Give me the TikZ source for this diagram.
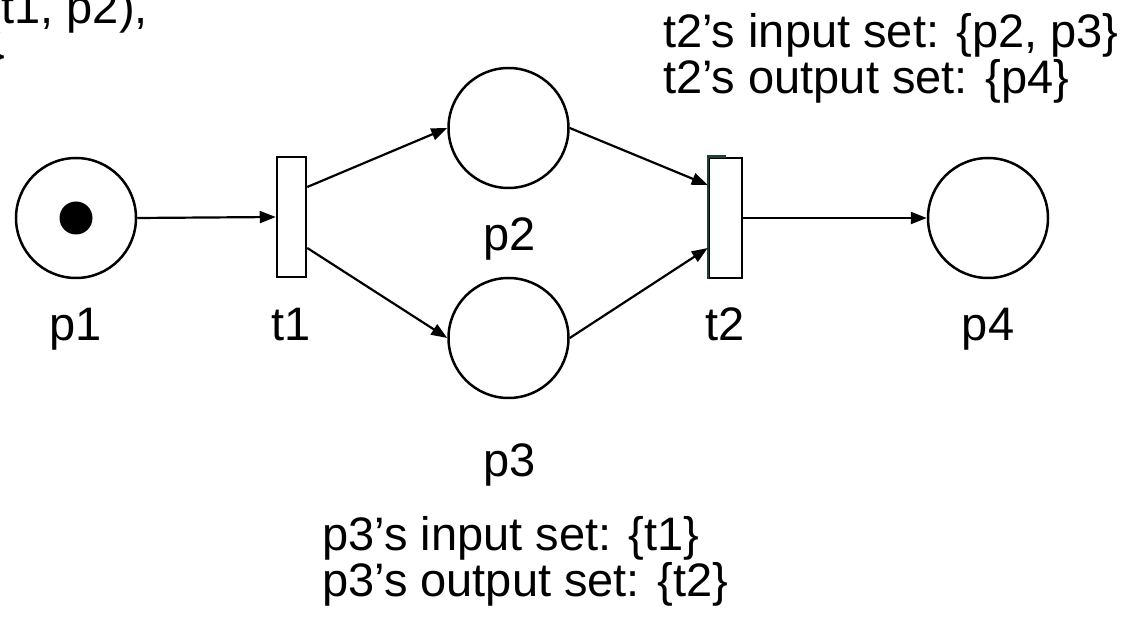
\documentclass[tikz,border=0pt]{standalone}
\usepackage{fontspec}
\setmainfont{Liberation Sans}
\usetikzlibrary{arrows.meta,calc}
\definecolor{edgegreen}{RGB}{28,66,52}
\begin{document}
\begin{tikzpicture}[x=1pt,y=-1pt,
  every node/.style={font=\fontsize{47}{47}\selectfont},
  place/.style={circle,draw,line width=2.5pt,minimum size=120pt,inner sep=0pt},
  trans/.style={rectangle,draw,line width=2.5pt,minimum width=29pt,minimum height=120pt,inner sep=0pt},
  token/.style={circle,fill=black,minimum size=33pt,inner sep=0pt},
  lbl/.style={anchor=base,inner sep=0pt},
  txt/.style={anchor=base west,inner sep=0pt},
  arc/.style={line width=2.2pt,-{Triangle[length=16pt,width=12pt]}}]
\useasboundingbox (0,0) rectangle (1125,617);
\clip (0,0) rectangle (1125,617);
% places and transitions
\node[place] (p1) at (76,218) {};
\node[token] (tok) at (76,218) {};
\node[trans] (t1) at (291.5,217) {};
\node[place] (p2) at (508.5,128) {};
\node[place] (p3) at (508.5,338) {};
\node[trans,minimum width=33pt] (t2) at (725.5,218) {};
\draw[edgegreen,line width=2.5pt] (t2.south west) -- (t2.north west) -- (t2.north);
\node[place] (p4) at (988,218) {};
% labels
\node[lbl] (lp1) at (76,341) {p1};
\node[lbl] (lt1) at (291,341) {t1};
\node[lbl] (lp2) at (510,251) {p2};
\node[lbl] (lt2) at (725,341) {t2};
\node[lbl] (lp4) at (988,341) {p4};
\node[lbl] (lp3) at (510,476) {p3};
% arcs
\draw[arc] (p1.east) -- (t1.west);
\draw[arc] ($(t1.east)+(0,-30)$) -- (p2.west);
\draw[arc] ($(t1.east)+(0,31)$) -- (p3.west);
\draw[arc] (p2.east) -- ($(t2.west)+(0,-33)$);
\draw[arc] (p3.east) -- ($(t2.west)+(0,30)$);
\draw[arc] (t2.east) -- (p4.west);
% texts
\node[txt] (ti) at (663,48) {t2’s input set: \{p2, p3\}};
\node[txt] (to) at (663,94) {t2’s output set: \{p4\}};
\node[txt] (pi) at (322,550) {p3’s input set: \{t1\}};
\node[txt] (po) at (322,596) {p3’s output set: \{t2\}};
\node[anchor=base east,inner sep=0pt] (f1) at (148,24) {(t1, p2),};
\node[anchor=base east,inner sep=0pt] (f2) at (5,70) {\}};
\end{tikzpicture}
\end{document}
